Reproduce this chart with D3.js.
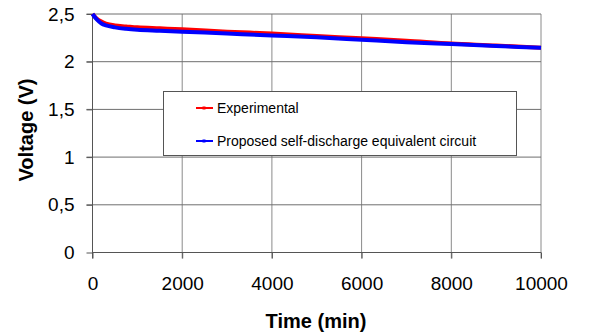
<!DOCTYPE html>
<html>
<head>
<meta charset="utf-8">
<script src="https://cdn.jsdelivr.net/npm/d3@7"></script>
<style>
  html, body { margin: 0; padding: 0; background: #ffffff; }
  svg { display: block; font-family: Arial, "Liberation Sans", sans-serif; }
</style>
</head>
<body>
<svg id="chart" width="593" height="336"></svg>
<script>
// Self-discharge voltage over time
const timeMin = [0, 100, 200, 300, 500, 750, 1000, 1500, 2000, 3000, 4000, 5000, 6000, 7000, 8000, 9000, 10000];
const experimental = [2.50, 2.45, 2.42, 2.40, 2.38, 2.37, 2.36, 2.35, 2.34, 2.315, 2.295, 2.27, 2.245, 2.22, 2.19, 2.17, 2.145];
const proposed = [2.50, 2.44, 2.40, 2.38, 2.36, 2.345, 2.335, 2.325, 2.315, 2.295, 2.275, 2.255, 2.23, 2.205, 2.185, 2.165, 2.145];
const xTicks = [0, 2000, 4000, 6000, 8000, 10000];
const yTicks = [0, 0.5, 1, 1.5, 2, 2.5];
const seriesNames = ["Experimental", "Proposed self-discharge equivalent circuit"];
const seriesColors = ["#ff0000", "#0000ff"];

const svg = d3.select("#chart");
const plotL = 92.5, plotR = 541, plotT = 14, plotB = 252.5;

const x = d3.scaleLinear().domain([0, 10000]).range([plotL, plotR]);
const y = d3.scaleLinear().domain([0, 2.5]).range([plotB, plotT]);

// grid lines
svg.append("g")
  .selectAll("line")
  .data(xTicks.slice(1))
  .join("line")
  .attr("x1", d => x(d)).attr("x2", d => x(d))
  .attr("y1", plotT).attr("y2", plotB + 6)
  .attr("stroke", "#8a8a8a").attr("stroke-width", 1);

svg.append("g")
  .selectAll("line")
  .data(yTicks.slice(1))
  .join("line")
  .attr("x1", plotL - 6).attr("x2", plotR)
  .attr("y1", d => y(d)).attr("y2", d => y(d))
  .attr("stroke", "#6e6e6e").attr("stroke-width", 1);

// axes
const xAxis = svg.append("g")
  .attr("transform", `translate(0,${plotB})`)
  .call(d3.axisBottom(x).tickValues(xTicks).tickSize(6).tickPadding(18).tickFormat(d3.format("d")));
xAxis.select(".domain").attr("stroke", "#555").attr("d", `M${plotL},0H${plotR}`);
xAxis.selectAll(".tick line").attr("stroke", "#555");
xAxis.selectAll("text").attr("font-size", 19).attr("fill", "#000")
  .attr("font-family", "Arial, 'Liberation Sans', sans-serif");

const yAxis = svg.append("g")
  .attr("transform", `translate(${plotL},0)`)
  .call(d3.axisLeft(y).tickValues(yTicks).tickSize(6).tickPadding(12)
    .tickFormat(d => String(d).replace(".", ",")));
yAxis.select(".domain").attr("stroke", "#555").attr("d", `M0,${plotT}V${plotB + 6}`);
yAxis.selectAll(".tick line").attr("stroke", "#555");
yAxis.selectAll("text").attr("font-size", 19).attr("fill", "#000")
  .attr("font-family", "Arial, 'Liberation Sans', sans-serif");

// series
const line = d3.line().x((d, i) => x(timeMin[i])).y(d => y(d)).curve(d3.curveMonotoneX);
[experimental, proposed].forEach((vals, k) => {
  svg.append("path")
    .datum(vals)
    .attr("d", line)
    .attr("fill", "none")
    .attr("stroke", seriesColors[k])
    .attr("stroke-width", 4)
    .attr("stroke-linejoin", "round");
});

// axis titles
svg.append("text")
  .attr("x", 316).attr("y", 328)
  .attr("text-anchor", "middle")
  .attr("font-size", 20).attr("font-weight", "bold")
  .text("Time (min)");

svg.append("text")
  .attr("transform", "translate(33,130) rotate(-90)")
  .attr("text-anchor", "middle")
  .attr("font-size", 20).attr("font-weight", "bold")
  .text("Voltage (V)");

// legend
const lg = svg.append("g");
lg.append("rect")
  .attr("x", 163.5).attr("y", 91.5).attr("width", 353).attr("height", 64)
  .attr("fill", "#ffffff").attr("stroke", "#555").attr("stroke-width", 1);
seriesNames.forEach((name, i) => {
  const ly = 108 + i * 33;
  lg.append("line")
    .attr("x1", 196).attr("x2", 213).attr("y1", ly).attr("y2", ly)
    .attr("stroke", seriesColors[i]).attr("stroke-width", 2);
  lg.append("rect")
    .attr("x", 202.5).attr("y", ly - 1.5).attr("width", 3).attr("height", 3)
    .attr("fill", seriesColors[i]);
  lg.append("text")
    .attr("x", 217).attr("y", ly + 5)
    .attr("font-size", 14)
    .text(name);
});
</script>
</body>
</html>
